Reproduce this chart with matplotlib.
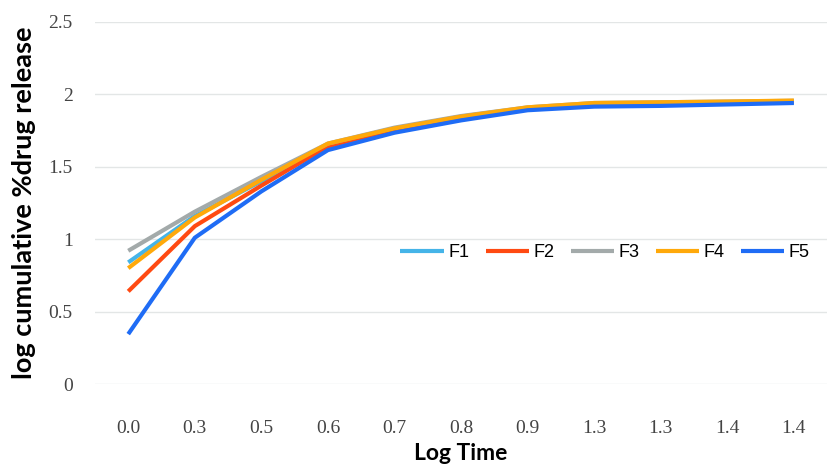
import matplotlib.pyplot as plt
import numpy as np

# categorias del eje x (log del tiempo)
log_time = ['0.0', '0.3', '0.5', '0.6', '0.7', '0.8', '0.9', '1.3', '1.3', '1.4', '1.4']

f1 = [0.84, 1.16, 1.40, 1.65, 1.76, 1.84, 1.90, 1.93, 1.94, 1.945, 1.95]
f2 = [0.64, 1.09, 1.37, 1.64, 1.76, 1.84, 1.90, 1.93, 1.94, 1.945, 1.95]
f3 = [0.92, 1.19, 1.43, 1.66, 1.77, 1.85, 1.91, 1.94, 1.945, 1.95, 1.955]
f4 = [0.80, 1.15, 1.41, 1.66, 1.765, 1.846, 1.91, 1.94, 1.945, 1.95, 1.957]
f5 = [0.345, 1.01, 1.33, 1.615, 1.735, 1.82, 1.89, 1.915, 1.92, 1.93, 1.94]

series = [('F1', f1, '#45B4E8'), ('F2', f2, '#FF4A12'), ('F3', f3, '#A3AAAA'),
          ('F4', f4, '#FFA90A'), ('F5', f5, '#1F6CF5')]

fig = plt.figure(figsize=(8.33, 4.65), dpi=100)
ax = fig.add_axes([0.114, 0.174, 0.879, 0.779])

x = np.arange(len(log_time))
for name, vals, col in series:
    ax.plot(x, vals, color=col, lw=3, label=name, solid_capstyle='butt')

ax.set_xlim(-0.5, len(log_time) - 0.5)
ax.set_ylim(0, 2.5)
ax.set_yticks([0, 0.5, 1, 1.5, 2, 2.5])
ax.set_yticklabels(['0', '0.5', '1', '1.5', '2', '2.5'])
ax.set_xticks(x)
ax.set_xticklabels(log_time)
ax.yaxis.grid(True, color='#E3E6E6', lw=1)
ax.set_axisbelow(True)
for s in ax.spines.values():
    s.set_visible(False)
ax.tick_params(length=0, labelsize=14, labelcolor='#444444')
ax.tick_params(axis='x', pad=26)
ax.tick_params(axis='y', pad=16)
for lab in ax.get_xticklabels() + ax.get_yticklabels():
    lab.set_family('Liberation Serif')

ax.set_xlabel('Log Time', fontsize=16.5, fontweight='bold', family='Lato', labelpad=4)
ax.set_ylabel('log cumulative %drug release', fontsize=19.5, fontweight='bold',
              family='Lato', labelpad=9)

ax.legend(loc='center left', bbox_to_anchor=(0.395, 0.362), ncol=5, frameon=False,
          handlelength=2.4, columnspacing=0.9, handletextpad=0.25,
          prop={'family': 'Liberation Sans', 'size': 13})

fig.savefig('out.png', dpi=100)
